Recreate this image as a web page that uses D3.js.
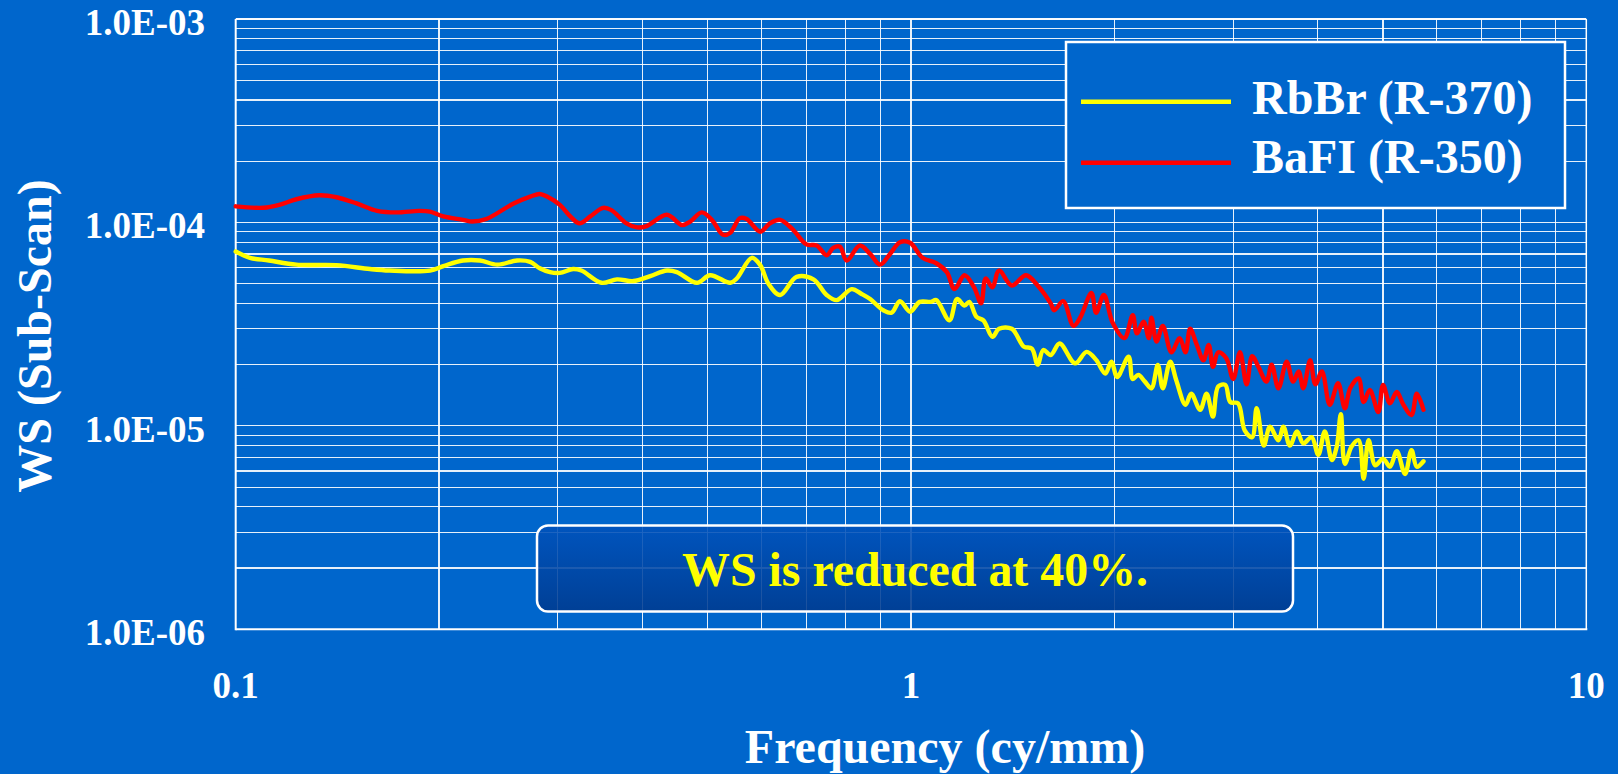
<!DOCTYPE html>
<html><head><meta charset="utf-8">
<script src="https://cdn.jsdelivr.net/npm/d3@7"></script>
<style>html,body{margin:0;padding:0;background:#0066CC;overflow:hidden}svg{display:block}</style>
</head><body><svg id="c" width="1618" height="774"></svg>
<script>
// ---- data ----
const seriesNames = ["RbBr (R-370)", "BaFI (R-350)"];
const seriesColors = ["#FFFF00", "#FF0000"];
const xTickValues = [0.1, 1, 10];
const xTickLabels = ["0.1", "1", "10"];
const yTickValues = [1e-6, 1e-5, 1e-4, 1e-3];
const yTickLabels = ["1.0E-06", "1.0E-05", "1.0E-04", "1.0E-03"];
const xTitle = "Frequency (cy/mm)";
const yTitle = "WS (Sub-Scan)";
const note = "WS is reduced at 40%.";

const rbbrFreq = [0.100,0.105,0.112,0.123,0.141,0.158,0.169,0.194,0.203,0.217,
0.230,0.244,0.261,0.273,0.282,0.292,0.302,0.316,0.325,0.348,
0.367,0.388,0.411,0.435,0.450,0.482,0.504,0.540,0.552,0.581,
0.598,0.615,0.640,0.677,0.717,0.750,0.776,0.817,0.845,0.870,
0.910,0.936,0.963,0.997,1.03,1.07,1.09,1.14,1.17,1.20,
1.22,1.25,1.28,1.32,1.35,1.41,1.47,1.51,1.54,1.57,
1.61,1.66,1.75,1.82,1.88,1.94,1.98,2.02,2.10,2.13,
2.17,2.22,2.27,2.32,2.36,2.42,2.47,2.55,2.60,2.68,
2.74,2.80,2.85,2.92,2.97,3.05,3.12,3.20,3.25,3.33,
3.40,3.50,3.56,3.64,3.73,3.81,3.92,4.01,4.10,4.20,
4.27,4.33,4.39,4.49,4.60,4.68,4.76,4.87,5.00,5.12,
5.24,5.39,5.51,5.61,5.74];
const rbbrWS = [7.2e-5,6.7e-5,6.5e-5,6.2e-5,6.17e-5,5.9e-5,5.8e-5,5.8e-5,6.1e-5,6.5e-5,
6.5e-5,6.2e-5,6.5e-5,6.4e-5,5.95e-5,5.7e-5,5.65e-5,5.9e-5,5.8e-5,5.05e-5,
5.25e-5,5.15e-5,5.45e-5,5.8e-5,5.7e-5,5.05e-5,5.5e-5,5.05e-5,5.3e-5,6.7e-5,
6.17e-5,5.0e-5,4.4e-5,5.4e-5,5.25e-5,4.4e-5,4.15e-5,4.7e-5,4.45e-5,4.2e-5,
3.7e-5,3.6e-5,4.1e-5,3.64e-5,4.07e-5,4.07e-5,4.15e-5,3.3e-5,4.2e-5,3.9e-5,
4.07e-5,3.44e-5,3.3e-5,2.74e-5,3.0e-5,3.0e-5,2.45e-5,2.4e-5,2.0e-5,2.36e-5,
2.23e-5,2.54e-5,2.03e-5,2.31e-5,2.11e-5,1.81e-5,2.07e-5,1.74e-5,2.19e-5,1.70e-5,
1.78e-5,1.65e-5,1.53e-5,1.99e-5,1.53e-5,2.07e-5,1.68e-5,1.27e-5,1.44e-5,1.2e-5,
1.44e-5,1.11e-5,1.56e-5,1.59e-5,1.31e-5,1.29e-5,0.95e-5,0.88e-5,1.22e-5,0.80e-5,
0.99e-5,0.85e-5,0.99e-5,0.80e-5,0.94e-5,0.82e-5,0.88e-5,0.72e-5,0.94e-5,0.68e-5,
0.79e-5,1.14e-5,0.65e-5,0.79e-5,0.85e-5,0.55e-5,0.85e-5,0.64e-5,0.69e-5,0.63e-5,
0.75e-5,0.58e-5,0.76e-5,0.63e-5,0.67e-5];

const bafiFreq = [0.100,0.110,0.116,0.123,0.133,0.141,0.151,0.162,0.173,0.187,
0.194,0.203,0.217,0.224,0.235,0.258,0.273,0.282,0.289,0.302,
0.313,0.323,0.335,0.350,0.360,0.379,0.393,0.406,0.435,0.458,
0.471,0.490,0.507,0.527,0.540,0.558,0.571,0.598,0.618,0.640,
0.669,0.700,0.725,0.750,0.767,0.785,0.803,0.840,0.870,0.900,
0.931,0.963,0.997,1.04,1.09,1.13,1.16,1.20,1.24,1.27,
1.29,1.32,1.35,1.41,1.48,1.54,1.61,1.63,1.68,1.74,
1.78,1.85,1.88,1.93,1.99,2.07,2.13,2.16,2.21,2.25,
2.27,2.31,2.36,2.43,2.50,2.55,2.59,2.65,2.71,2.76,
2.80,2.85,2.93,3.00,3.07,3.14,3.20,3.27,3.36,3.42,
3.50,3.60,3.68,3.75,3.81,3.90,3.97,4.06,4.17,4.29,
4.39,4.47,4.60,4.68,4.78,4.92,5.00,5.12,5.24,5.36,
5.51,5.61,5.74];
const bafiWS = [12.0e-5,11.8e-5,12.2e-5,13.0e-5,13.6e-5,13.3e-5,12.4e-5,11.4e-5,11.2e-5,11.4e-5,
11.3e-5,10.7e-5,10.3e-5,10.1e-5,10.4e-5,12.4e-5,13.4e-5,13.8e-5,13.4e-5,12.2e-5,
10.7e-5,9.9e-5,10.7e-5,11.8e-5,11.5e-5,9.9e-5,9.46e-5,9.6e-5,10.9e-5,9.7e-5,
10.1e-5,11.2e-5,10.3e-5,8.7e-5,8.9e-5,10.5e-5,10.4e-5,9.0e-5,9.9e-5,10.3e-5,
9.2e-5,7.8e-5,7.7e-5,6.9e-5,7.5e-5,7.6e-5,6.5e-5,7.7e-5,7.0e-5,6.2e-5,
7.0e-5,8.0e-5,7.95e-5,6.7e-5,6.3e-5,5.7e-5,4.7e-5,5.5e-5,4.8e-5,4.0e-5,
5.3e-5,4.8e-5,5.8e-5,4.9e-5,5.5e-5,4.9e-5,4.0e-5,3.7e-5,4.1e-5,3.1e-5,
3.4e-5,4.5e-5,3.6e-5,4.4e-5,3.2e-5,2.7e-5,3.5e-5,2.85e-5,3.25e-5,2.7e-5,
3.4e-5,2.6e-5,3.1e-5,2.3e-5,2.7e-5,2.3e-5,3.0e-5,2.5e-5,2.1e-5,2.5e-5,
1.95e-5,2.3e-5,2.15e-5,1.7e-5,2.3e-5,1.6e-5,2.2e-5,1.95e-5,1.65e-5,2.0e-5,
1.53e-5,2.07e-5,1.65e-5,1.85e-5,1.53e-5,2.1e-5,1.6e-5,1.85e-5,1.27e-5,1.62e-5,
1.22e-5,1.53e-5,1.71e-5,1.31e-5,1.50e-5,1.17e-5,1.59e-5,1.29e-5,1.47e-5,1.27e-5,
1.13e-5,1.44e-5,1.2e-5];

// ---- drawing ----
const svg = d3.select("#c");
const FONT = "'Times New Roman','Liberation Serif',serif";
const L = 235.7, R = 1586.3, T = 19, B = 629.3;
const x = d3.scaleLog().domain([0.1, 10]).range([L, R]);
const y = d3.scaleLog().domain([1e-6, 1e-3]).range([B, T]);

svg.append("rect").attr("width",1618).attr("height",774).attr("fill","#0066CC");

// gridlines
const grid = svg.append("g").attr("stroke","#ffffff").attr("stroke-width",1.2).attr("shape-rendering","crispEdges");
grid.selectAll(".vx").data(x.ticks()).join("line")
  .attr("x1",d=>x(d)).attr("x2",d=>x(d)).attr("y1",T).attr("y2",B).attr("stroke-opacity",0.9);
grid.selectAll(".hy").data(y.ticks()).join("line")
  .attr("x1",L).attr("x2",R).attr("y1",d=>y(d)).attr("y2",d=>y(d)).attr("stroke-opacity",0.9);
// axes lines
svg.append("line").attr("x1",L).attr("x2",L).attr("y1",T).attr("y2",B+1).attr("stroke","#fff").attr("stroke-width",2);
svg.append("line").attr("x1",L).attr("x2",R+1).attr("y1",B).attr("y2",B).attr("stroke","#fff").attr("stroke-width",2);
svg.append("line").attr("x1",R).attr("x2",R).attr("y1",T).attr("y2",B).attr("stroke","#fff").attr("stroke-width",1.5);
svg.append("line").attr("x1",L).attr("x2",R).attr("y1",T).attr("y2",T).attr("stroke","#fff").attr("stroke-width",1.5);

// tick labels
svg.selectAll(".xt").data(xTickValues).join("text")
  .attr("x",d=>x(d)).attr("y",698).attr("text-anchor","middle")
  .attr("font-family",FONT).attr("font-weight","bold").attr("font-size",37).attr("fill","#fff")
  .text((d,i)=>xTickLabels[i]);
svg.selectAll(".yt").data(yTickValues).join("text")
  .attr("x",205).attr("y",d=>y(d)+16).attr("text-anchor","end")
  .attr("font-family",FONT).attr("font-weight","bold").attr("font-size",37).attr("fill","#fff")
  .text((d,i)=>yTickLabels[i]);

// axis titles
svg.append("text").attr("x",945).attr("y",763).attr("text-anchor","middle")
  .attr("font-family",FONT).attr("font-weight","bold").attr("font-size",48).attr("fill","#fff").text(xTitle);
svg.append("text").attr("transform","translate(51,336) rotate(-90)").attr("text-anchor","middle")
  .attr("font-family",FONT).attr("font-weight","bold").attr("font-size",48).attr("fill","#fff").text(yTitle);

// series
const line = d3.line().x(d=>x(d[0])).y(d=>y(d[1])).curve(d3.curveCatmullRom.alpha(0.5));
const series = [d3.zip(rbbrFreq, rbbrWS), d3.zip(bafiFreq, bafiWS)];
svg.append("g").selectAll("path").data(series).join("path")
  .attr("d", line).attr("fill","none")
  .attr("stroke",(d,i)=>seriesColors[i]).attr("stroke-width",4.4)
  .attr("stroke-linejoin","round").attr("stroke-linecap","round");

// legend
const lg = svg.append("g");
lg.append("rect").attr("x",1066).attr("y",42).attr("width",499).attr("height",166)
  .attr("fill","#0066CC").attr("stroke","#fff").attr("stroke-width",2.5);
const ly = [101.7, 162.7], lb = [113.5, 173];
seriesNames.forEach((n,i)=>{
  lg.append("line").attr("x1",1081).attr("x2",1231).attr("y1",ly[i]).attr("y2",ly[i])
    .attr("stroke",seriesColors[i]).attr("stroke-width",4.5);
  lg.append("text").attr("x",1252).attr("y",lb[i]).attr("font-family",FONT).attr("font-weight","bold")
    .attr("font-size",48).attr("fill","#fff").text(n);
});

// annotation
const defs = svg.append("defs");
const gr = defs.append("linearGradient").attr("id","ng").attr("x1",0).attr("x2",0).attr("y1",0).attr("y2",1);
gr.append("stop").attr("offset","0%").attr("stop-color","#0052BC");
gr.append("stop").attr("offset","100%").attr("stop-color","#003A8E");
svg.append("rect").attr("x",537).attr("y",525.5).attr("width",756).attr("height",86).attr("rx",11)
  .attr("fill","url(#ng)").attr("fill-opacity",0.88).attr("stroke","#fff").attr("stroke-width",2.5);
svg.append("text").attr("x",915).attr("y",586).attr("text-anchor","middle")
  .attr("font-family",FONT).attr("font-weight","bold").attr("font-size",48).attr("fill","#FFFF00")
  .attr("textLength",466).attr("lengthAdjust","spacingAndGlyphs").text(note);
</script></body></html>
